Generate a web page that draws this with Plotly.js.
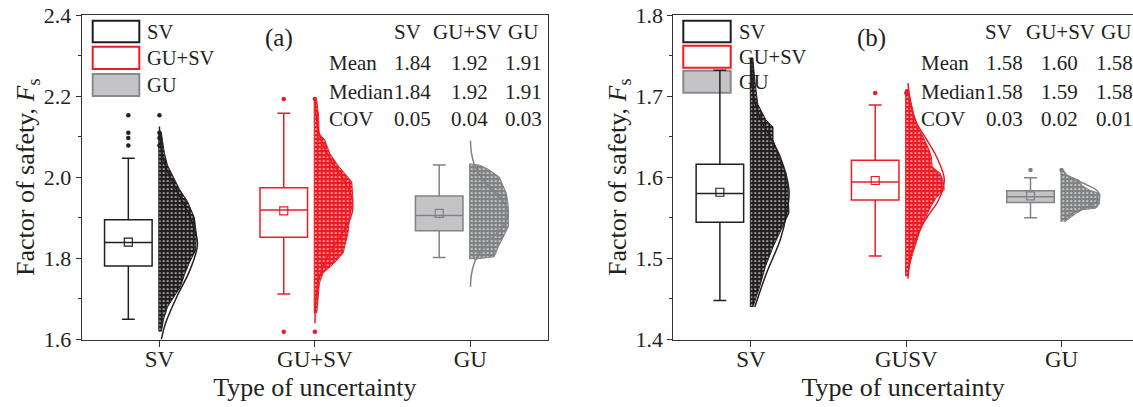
<!DOCTYPE html>
<html><head><meta charset="utf-8">
<script src="https://cdn.plot.ly/plotly-3.0.1.min.js"></script>
<style>html,body{margin:0;padding:0;background:#fff}#chart{width:1133px;height:407px}</style>
</head><body><div id="chart"></div>
<script>
// ---------------- data ----------------
const tickLabelsA = ['SV', 'GU+SV', 'GU'];
const tickLabelsB = ['SV', 'GUSV', 'GU'];
const legendLabels = ['SV', 'GU+SV', 'GU'];
const tableCols = ['SV', 'GU+SV', 'GU'];
const tableRows = ['Mean', 'Median', 'COV'];
const tableA = [['1.84', '1.92', '1.91'], ['1.84', '1.92', '1.91'], ['0.05', '0.04', '0.03']];
const tableB = [['1.58', '1.60', '1.58'], ['1.58', '1.59', '1.58'], ['0.03', '0.02', '0.01']];

// panel (a) box statistics (SV, GU+SV, GU)
const a_lower  = [1.650, 1.712, 1.802];
const a_q1     = [1.781, 1.852, 1.868];
const a_median = [1.839, 1.919, 1.906];
const a_q3     = [1.895, 1.974, 1.954];
const a_upper  = [2.047, 2.158, 2.030];
const a_mean   = [1.840, 1.917, 1.911];
const a_outliers = [[2.153, 2.110, 2.097, 2.078], [2.193, 1.619], []];

// panel (b) box statistics (SV, GUSV, GU)
const b_lower  = [1.448, 1.503, 1.550];
const b_q1     = [1.5445, 1.572, 1.569];
const b_median = [1.580, 1.594, 1.576];
const b_q3     = [1.616, 1.621, 1.5835];
const b_upper  = [1.732, 1.689, 1.5995];
const b_mean   = [1.5815, 1.596, 1.577];
const b_outliers = [[], [1.704], [1.609]];

// point-cloud envelopes (Fs value, relative horizontal spread of the jittered points)
const a_cloudY = [
  [1.62, 1.65, 1.68, 1.70, 1.73, 1.76, 1.79, 1.82, 1.86, 1.90, 1.94, 1.97, 2.00, 2.03, 2.06, 2.09, 2.11],
  [1.665, 1.714, 1.739, 1.763, 1.788, 1.8125, 1.862, 1.903, 1.944, 1.989, 2.026, 2.059, 2.092, 2.108, 2.15, 2.19],
  [1.798, 1.804, 1.829, 1.853, 1.878, 1.927, 1.960, 2.001, 2.020, 2.030, 2.033]
];
const a_cloudW = [
  [0.05, 0.11, 0.21, 0.34, 0.55, 0.66, 0.79, 0.95, 0.97, 0.92, 0.74, 0.53, 0.37, 0.21, 0.13, 0.08, 0.05],
  [0.05, 0.1, 0.12, 0.21, 0.5, 0.74, 0.87, 0.92, 1.0, 0.97, 0.63, 0.39, 0.26, 0.11, 0.1, 0.05],
  [0.1, 0.63, 0.74, 0.87, 1.0, 1.0, 0.95, 0.76, 0.47, 0.24, 0.05]
];
const b_cloudY = [
  [1.44, 1.465, 1.49, 1.514, 1.535, 1.556, 1.584, 1.605, 1.625, 1.646, 1.662, 1.671, 1.69, 1.72, 1.747],
  [1.478, 1.49, 1.506, 1.531, 1.55, 1.565, 1.575, 1.585, 1.595, 1.605, 1.613, 1.625, 1.634, 1.65, 1.665, 1.685, 1.708],
  [1.545, 1.551, 1.556, 1.56, 1.562, 1.568, 1.574, 1.58, 1.584, 1.59, 1.596, 1.60, 1.603, 1.609]
];
const b_cloudW = [
  [0.05, 0.23, 0.38, 0.58, 0.79, 1.0, 0.97, 0.92, 0.74, 0.58, 0.58, 0.39, 0.18, 0.1, 0.05],
  [0.03, 0.08, 0.17, 0.34, 0.5, 0.66, 0.79, 1.0, 0.97, 0.89, 0.68, 0.66, 0.6, 0.44, 0.26, 0.16, 0.05],
  [0.08, 0.25, 0.4, 0.55, 0.91, 1.0, 1.0, 1.0, 0.74, 0.53, 0.47, 0.26, 0.13, 0.03]
];

// fitted distribution curves (Fs value, relative density)
const a_curveY = [
  [1.60, 1.64, 1.706, 1.771, 1.837, 1.903, 1.969, 2.02, 2.067, 2.125],
  [1.64, 1.70, 1.75, 1.80, 1.85, 1.90, 1.93, 1.96, 2.00, 2.05, 2.10, 2.15, 2.193],
  [1.73, 1.76, 1.79, 1.82, 1.85, 1.88, 1.91, 1.94, 1.97, 2.00, 2.03, 2.06, 2.09]
];
const a_curveD = [
  [0.05, 0.16, 0.46, 0.80, 1.0, 0.80, 0.45, 0.19, 0.05, 0.0],
  [0.003, 0.026, 0.106, 0.31, 0.64, 0.94, 1.0, 0.94, 0.71, 0.37, 0.135, 0.035, 0.008],
  [0.005, 0.03, 0.11, 0.29, 0.57, 0.87, 1.0, 0.87, 0.57, 0.29, 0.11, 0.03, 0.005]
];
const b_curveY = [
  [1.44, 1.482, 1.523, 1.556, 1.584, 1.625, 1.65, 1.675, 1.708, 1.747],
  [1.475, 1.506, 1.531, 1.551, 1.572, 1.597, 1.625, 1.646, 1.667, 1.687, 1.716],
  [1.548, 1.556, 1.564, 1.572, 1.578, 1.584, 1.592, 1.60, 1.609]
];
const b_curveD = [
  [0.1, 0.41, 0.77, 0.94, 1.0, 0.77, 0.5, 0.22, 0.045, 0.0],
  [0.045, 0.13, 0.31, 0.55, 0.85, 1.0, 0.8, 0.54, 0.27, 0.13, 0.045],
  [0.03, 0.3, 0.7, 0.97, 1.0, 0.92, 0.6, 0.2, 0.03]
];

// ---------------- styling ----------------
const lineColors = ['#231f20', '#ed1c24', '#808285'];
const boxFills   = ['#ffffff', '#ffffff', '#c4c4c7'];
const BOX_OFFSET = -0.2, BOX_W = 0.306, SPREAD = 0.245;
const FONT = 'Liberation Serif, Times New Roman, serif';
const W = 1133, H = 407;
const px = v => v / W, py = v => 1 - v / H;

function panelTraces(xa, ya, lower, q1, med, q3, upper, mean, outl, cY, cW, kY, kD) {
  const tr = [];
  for (let i = 0; i < 3; i++) {
    const c = lineColors[i];
    // jittered point cloud (envelope)
    const xs = cY[i].map((y, j) => i + cW[i][j] * SPREAD);
    const ys = cY[i].slice();
    xs.push(i - 0.004, i - 0.004); ys.push(cY[i][cY[i].length - 1], cY[i][0]);
    tr.push({type: 'scatter', mode: 'lines', x: xs, y: ys, fill: 'toself', fillcolor: c,
      fillpattern: {shape: '.', bgcolor: c, fgcolor: '#ffffff', size: 4, solidity: 0.14},
      line: {color: c, width: 1}, xaxis: xa, yaxis: ya, hoverinfo: 'skip'});
    // distribution curve
    tr.push({type: 'scatter', mode: 'lines', x: kD[i].map(d => i + d * SPREAD), y: kY[i],
      line: {color: c, width: 1.5, shape: 'spline'}, xaxis: xa, yaxis: ya, hoverinfo: 'skip'});
    // outliers on cloud side
    if (outl[i].length) tr.push({type: 'scatter', mode: 'markers', x: outl[i].map(() => i), y: outl[i],
      marker: {color: c, size: 4.5}, xaxis: xa, yaxis: ya, hoverinfo: 'skip'});
    // box
    tr.push({type: 'box', x: [i + BOX_OFFSET], q1: [q1[i]], median: [med[i]], q3: [q3[i]],
      lowerfence: [lower[i]], upperfence: [upper[i]], width: BOX_W, whiskerwidth: 0.27,
      line: {color: c, width: 1.5}, fillcolor: boxFills[i], boxpoints: false,
      xaxis: xa, yaxis: ya, hoverinfo: 'skip'});
    // outliers beside box
    if (outl[i].length) tr.push({type: 'scatter', mode: 'markers', x: outl[i].map(() => i + BOX_OFFSET), y: outl[i],
      marker: {color: c, size: 4.5}, xaxis: xa, yaxis: ya, hoverinfo: 'skip'});
    // mean marker
    tr.push({type: 'scatter', mode: 'markers', x: [i + BOX_OFFSET], y: [mean[i]],
      marker: {symbol: 'square-open', size: 8, color: c, line: {width: 1.2, color: c}},
      xaxis: xa, yaxis: ya, hoverinfo: 'skip'});
  }
  return tr;
}

const data = [].concat(
  panelTraces('x', 'y', a_lower, a_q1, a_median, a_q3, a_upper, a_mean, a_outliers, a_cloudY, a_cloudW, a_curveY, a_curveD),
  panelTraces('x2', 'y2', b_lower, b_q1, b_median, b_q3, b_upper, b_mean, b_outliers, b_cloudY, b_cloudW, b_curveY, b_curveD)
);

const axisCommon = {showline: true, linecolor: '#333', linewidth: 1, showgrid: false, zeroline: false,
  ticks: 'outside', tickcolor: '#333', tickfont: {size: 22, family: FONT, color: '#231f20'}};
const yTitle = {text: 'Factor of safety, <i>F</i><sub>s</sub>', font: {size: 26, family: FONT, color: '#231f20'}, standoff: 0};
const xTitle = {text: 'Type of uncertainty', font: {size: 26, family: FONT, color: '#231f20'}, standoff: 6};

const shapes = [], annotations = [];
function addPanelText(legX0, legX1, legRows, legTextX, tagX, tag, rowLabelX, colCenters, hdrCenters, table) {
  legRows.forEach((r, i) => {
    shapes.push({type: 'rect', xref: 'paper', yref: 'paper', layer: 'below',
      x0: px(legX0), x1: px(legX1), y0: py(r[1]), y1: py(r[0]),
      line: {color: i === 2 ? '#8a8a8d' : lineColors[i], width: 2}, fillcolor: boxFills[i]});
    annotations.push({xref: 'paper', yref: 'paper', x: px(legTextX), y: py((r[0] + r[1]) / 2), xanchor: 'left', yanchor: 'middle',
      text: legendLabels[i], showarrow: false, font: {size: 20.5, family: FONT, color: '#231f20'}});
  });
  annotations.push({xref: 'paper', yref: 'paper', x: px(tagX), y: py(38.3), xanchor: 'center', yanchor: 'middle',
    text: tag, showarrow: false, font: {size: 25, family: FONT, color: '#231f20'}});
  const rowY = [63.3, 91.7, 118.8];
  tableCols.forEach((t, j) => annotations.push({xref: 'paper', yref: 'paper', x: px(hdrCenters[j]), y: py(31.7),
    xanchor: 'center', yanchor: 'middle', text: t, showarrow: false, font: {size: 21, family: FONT, color: '#231f20'}}));
  tableRows.forEach((t, i) => {
    annotations.push({xref: 'paper', yref: 'paper', x: px(rowLabelX), y: py(rowY[i]), xanchor: 'left', yanchor: 'middle',
      text: t, showarrow: false, font: {size: 21, family: FONT, color: '#231f20'}});
    table[i].forEach((v, j) => annotations.push({xref: 'paper', yref: 'paper', x: px(colCenters[j]), y: py(rowY[i]),
      xanchor: 'center', yanchor: 'middle', text: v, showarrow: false, font: {size: 21, family: FONT, color: '#231f20'}}));
  });
}
addPanelText(92.7, 139.3, [[20.7, 42.3], [46.7, 69], [74, 96]], 145, 279, '(a)', 326.5,
  [412.5, 469, 523.8], [407.5, 467.5, 523], tableA);
addPanelText(683.3, 730.7, [[20.7, 42.3], [45.7, 67.7], [70.7, 92.7]], 736.7, 871.7, '(b)', 918.8,
  [1004.2, 1059.5, 1114], [998.3, 1060.8, 1115.8], tableB);

const layout = {
  width: W, height: H, margin: {l: 0, r: 0, t: 0, b: 0}, paper_bgcolor: '#ffffff', plot_bgcolor: 'rgba(0,0,0,0)',
  showlegend: false, boxmode: 'overlay', font: {family: FONT, color: '#231f20'},
  xaxis: Object.assign({}, axisCommon, {domain: [px(81.7), px(548)], range: [-0.5, 2.5], tickvals: [0, 1, 2],
    ticktext: tickLabelsA, ticklen: 6, ticklabelstandoff: -7, mirror: true, anchor: 'y',
    tickfont: {size: 23, family: FONT, color: '#231f20'}, title: xTitle}),
  yaxis: Object.assign({}, axisCommon, {domain: [py(339.5), py(15)], range: [1.6, 2.4], tick0: 1.6, dtick: 0.2,
    tickformat: '.1f', ticklen: 5, mirror: true, anchor: 'x',
    minor: {dtick: 0.1, ticks: 'outside', ticklen: 3, tickcolor: '#333', showgrid: false}, title: yTitle}),
  xaxis2: Object.assign({}, axisCommon, {domain: [px(673.3), 1], range: [-0.5, 2.46], tickvals: [0, 1, 2],
    ticktext: tickLabelsB, ticklen: 6, ticklabelstandoff: -7, mirror: true, anchor: 'y2',
    tickfont: {size: 23, family: FONT, color: '#231f20'}, title: xTitle}),
  yaxis2: Object.assign({}, axisCommon, {domain: [py(339.5), py(15)], range: [1.4, 1.8], tick0: 1.4, dtick: 0.1,
    tickformat: '.1f', ticklen: 5, mirror: false, anchor: 'x2',
    minor: {dtick: 0.05, ticks: 'outside', ticklen: 3, tickcolor: '#333', showgrid: false}, title: yTitle}),
  shapes: shapes, annotations: annotations
};

Plotly.newPlot('chart', data, layout, {staticPlot: true, displayModeBar: false});
</script></body></html>
